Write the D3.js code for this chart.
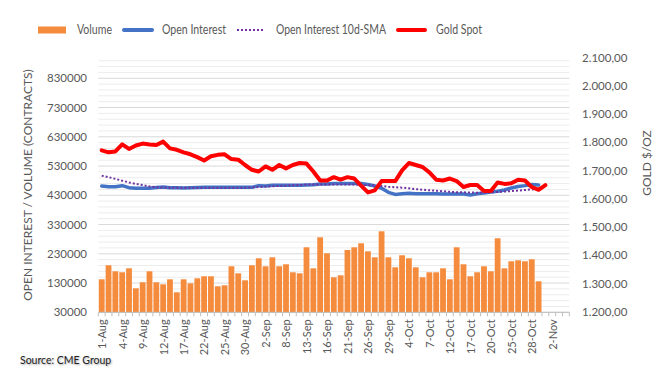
<!DOCTYPE html>
<html><head><meta charset="utf-8">
<script src="https://cdn.jsdelivr.net/npm/d3@7"></script>
<style>html,body{margin:0;padding:0;background:#fff}svg{display:block}</style>
</head><body>
<script>
const dates = ["1-Aug","2-Aug","3-Aug","4-Aug","5-Aug","8-Aug","9-Aug","10-Aug","11-Aug","12-Aug","15-Aug","16-Aug","17-Aug","18-Aug","19-Aug","22-Aug","23-Aug","24-Aug","25-Aug","26-Aug","29-Aug","30-Aug","31-Aug",
"1-Sep","2-Sep","6-Sep","7-Sep","8-Sep","9-Sep","12-Sep","13-Sep","14-Sep","15-Sep","16-Sep","19-Sep","20-Sep","21-Sep","22-Sep","23-Sep","26-Sep","27-Sep","28-Sep","29-Sep","30-Sep",
"3-Oct","4-Oct","5-Oct","6-Oct","7-Oct","10-Oct","11-Oct","12-Oct","13-Oct","14-Oct","17-Oct","18-Oct","19-Oct","20-Oct","21-Oct","24-Oct","25-Oct","26-Oct","27-Oct","28-Oct","31-Oct",
"1-Nov","2-Nov","3-Nov","4-Nov"];
const shownLabels = ["1-Aug","4-Aug","9-Aug","12-Aug","17-Aug","22-Aug","25-Aug","30-Aug","2-Sep","8-Sep","13-Sep","16-Sep","21-Sep","26-Sep","29-Sep","4-Oct","7-Oct","12-Oct","17-Oct","20-Oct","25-Oct","28-Oct","2-Nov"];
const volume = [142800,190700,170200,166800,180400,112000,132600,170200,132600,125700,142800,98400,142800,129100,146200,153100,153100,118900,122300,187300,163300,139400,190700,214600,187300,218000,187300,194100,166800,163300,252200,180400,286400,231700,
149700,156500,243000,252200,265900,238500,218000,306900,218000,183800,224900,214600,183800,149700,166800,166800,180400,142800,252200,194100,153100,166800,187300,170200,283000,180400,204400,207800,204400,211200,136000];
const openInterest = [461800,459400,459400,462800,456000,454000,454000,454000,457000,458000,455500,455500,455000,456000,457000,457200,457200,457200,457200,457200,457200,457200,457200,463000,461800,464200,464200,464200,464200,464200,465000,466000,468600,468600,
470500,470500,470500,470500,470500,467000,462000,454000,440000,433000,435000,436800,435000,435000,435000,435000,434000,434400,434400,434400,431000,435000,438000,441000,443500,448000,455000,460000,463000,467000,465000];
const oiSma = [497000,492000,486000,480000,474000,469000,465000,460000,457500,456500,456000,456000,456000,456000,456000,456000,456000,456000,456000,456000,456000,456000,457000,458000,460000,461000,462000,463000,464000,465000,466500,466500,466500,466500,
466500,466500,466500,466500,466000,465000,463500,461500,459000,457500,456000,454000,451000,449000,447000,445500,444000,442000,440500,440000,439500,439000,439000,440000,441500,443000,444500,446000,448000,450000,452000];
const goldSpot = [1772,1765,1768,1793,1777,1789,1796,1793,1791,1803,1779,1774,1765,1758,1748,1736,1751,1756,1758,1741,1739,1720,1703,1697,1715,1703,1720,1708,1720,1727,1725,1697,1665,1665,
1677,1668,1677,1672,1647,1623,1630,1663,1663,1663,1701,1727,1720,1713,1694,1668,1665,1672,1663,1642,1649,1649,1628,1628,1658,1653,1655,1668,1665,1642,1632,1649];
const leftTicks = [30000,130000,230000,330000,430000,530000,630000,730000,830000];
const rightTicks = [1200,1300,1400,1500,1600,1700,1800,1900,2000,2100];
const seriesNames = ["Volume","Open Interest","Open Interest 10d-SMA","Gold Spot"];

const W=666,H=381;
const X0=98.3,X1=569.3,YT=57.8,YB=312.3;
const font="Lato, 'Open Sans', sans-serif";
const svg=d3.select("body").append("svg").attr("width",W).attr("height",H);

const x=d3.scaleBand().domain(dates).range([X0,X1]).paddingInner(0.15).paddingOuter(0.075);
const yL=d3.scaleLinear().domain([30000,900000]).range([YB,YT]);
const yR=d3.scaleLinear().domain([1200,2100]).range([YB-0.6,YT]);
const cx=d=>x(d)+x.bandwidth()/2;

// gridlines
const minor=d3.range(30000,900000,20000);
svg.append("g").selectAll("line").data(minor).join("line")
 .attr("x1",X0).attr("x2",X1).attr("y1",d=>yL(d)).attr("y2",d=>yL(d))
 .attr("stroke",d=>(d-30000)%100000===0?"#d9d9d9":"#ececec").attr("stroke-width",1);

// bars
svg.append("g").selectAll("rect").data(volume).join("rect")
 .attr("x",(d,i)=>x(dates[i])).attr("width",x.bandwidth())
 .attr("y",d=>yL(d)).attr("height",d=>YB-yL(d)).attr("fill","#F58B3C");

// x axis
const step=x.step();
svg.append("line").attr("x1",X0).attr("x2",X1).attr("y1",YB).attr("y2",YB).attr("stroke","#bfbfbf");
svg.append("g").selectAll("line").data(d3.range(dates.length+1)).join("line")
 .attr("x1",i=>X0+i*step).attr("x2",i=>X0+i*step).attr("y1",YB).attr("y2",YB+4).attr("stroke","#bfbfbf");
svg.append("g").selectAll("text").data(shownLabels).join("text")
 .attr("transform",d=>`translate(${cx(d)+0.5},${YB+7}) rotate(-90)`)
 .attr("text-anchor","end").attr("dy","0.35em")
 .attr("font-family",font).attr("font-size",11).attr("fill","#595959").text(d=>d);

// left axis labels
svg.append("g").selectAll("text").data(leftTicks).join("text")
 .attr("x",87).attr("y",d=>yL(d)).attr("dy","0.35em").attr("text-anchor","end")
 .attr("font-family",font).attr("font-size",11.5).attr("fill","#595959").text(d=>d);
// right axis labels
const fmt=d3.formatLocale({decimal:",",thousands:".",grouping:[3],currency:["",""]}).format(",.2f");
svg.append("g").selectAll("text").data(rightTicks).join("text")
 .attr("x",582).attr("y",d=>yR(d)).attr("dy","0.35em").attr("text-anchor","start")
 .attr("font-family",font).attr("font-size",11.5).attr("fill","#595959").text(d=>fmt(d));

// axis titles
svg.append("text").attr("transform","translate(28,185) rotate(-90)").attr("text-anchor","middle").attr("dy","0.35em")
 .attr("font-family",font).attr("font-size",12).attr("fill","#595959").text("OPEN INTEREST / VOLUME (CONTRACTS)");
svg.append("text").attr("transform","translate(647,163) rotate(-90)").attr("text-anchor","middle").attr("dy","0.35em")
 .attr("font-family",font).attr("font-size",12).attr("fill","#595959").text("GOLD $/OZ");

// lines
const lineL=d3.line().x((d,i)=>cx(dates[i])).y(d=>yL(d)).curve(d3.curveLinear);
const lineR=d3.line().x((d,i)=>cx(dates[i])).y(d=>yR(d)).curve(d3.curveLinear);
svg.append("path").attr("d",lineL(openInterest)).attr("fill","none").attr("stroke","#4472C4").attr("stroke-width",3.5).attr("stroke-linejoin","round").attr("stroke-linecap","round");
svg.append("path").attr("d",lineL(oiSma)).attr("fill","none").attr("stroke","#7030A0").attr("stroke-width",2).attr("stroke-dasharray","2,2");
svg.append("path").attr("d",lineR(goldSpot)).attr("fill","none").attr("stroke","#FF0000").attr("stroke-width",4).attr("stroke-linejoin","round").attr("stroke-linecap","round");

// legend
const lg=svg.append("g");
const ly=30;
lg.append("rect").attr("x",38).attr("y",ly-3.5).attr("width",28).attr("height",7).attr("fill","#F58B3C");
lg.append("line").attr("x1",124).attr("x2",152).attr("y1",ly).attr("y2",ly).attr("stroke","#4472C4").attr("stroke-width",4).attr("stroke-linecap","round");
lg.append("line").attr("x1",237).attr("x2",265).attr("y1",ly).attr("y2",ly).attr("stroke","#7030A0").attr("stroke-width",2).attr("stroke-dasharray","2,2");
lg.append("line").attr("x1",398).attr("x2",425).attr("y1",ly).attr("y2",ly).attr("stroke","#FF0000").attr("stroke-width",4).attr("stroke-linecap","round");
const lx=[77,162,276,436];
const lw=[35,64,110,46];
lg.selectAll("text").data(seriesNames).join("text")
 .attr("x",(d,i)=>lx[i]).attr("y",ly).attr("dy","0.35em")
 .attr("textLength",(d,i)=>lw[i]).attr("lengthAdjust","spacingAndGlyphs")
 .attr("font-family",font).attr("font-size",12.5).attr("fill","#595959").text(d=>d);

// source
svg.append("text").attr("x",20).attr("y",364).attr("font-family",font).attr("font-size",10.5).attr("fill","#222")
 .attr("style","text-shadow:1px 1px 2px rgba(0,0,0,0.35)").text("Source: CME Group");
</script>
</body></html>
